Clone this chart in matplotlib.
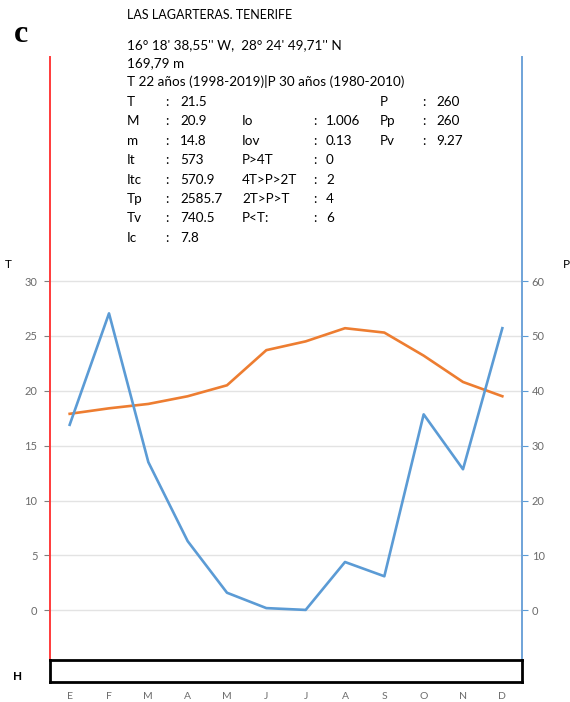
import matplotlib
matplotlib.use("Agg")
import matplotlib.pyplot as plt
import numpy as np

months = ["E", "F", "M", "A", "M", "J", "J", "A", "S", "O", "N", "D"]
temp = [17.9, 18.4, 18.8, 19.5, 20.5, 23.7, 24.5, 25.7, 25.3, 23.2, 20.8, 19.5]
prec = [33.8, 54.1, 27.0, 12.6, 3.2, 0.4, 0.07, 8.8, 6.2, 35.7, 25.7, 51.4]

station = "LAS LAGARTERAS. TENERIFE"
coords = "16° 18' 38,55'' W,  28° 24' 49,71'' N"
altitude = "169,79 m"
period = "T 22 años (1998-2019)|P 30 años (1980-2010)"
col1 = [("T", "21.5"), ("M", "20.9"), ("m", "14.8"), ("It", "573"),
        ("Itc", "570.9"), ("Tp", "2585.7"), ("Tv", "740.5"), ("Ic", "7.8")]
col2 = [("Io", "1.006"), ("Iov", "0.13"), ("P>4T", "0"),
        ("4T>P>2T", "2"), ("2T>P>T", "4"), ("P<T:", "6")]
col3 = [("P", "260"), ("Pp", "260"), ("Pv", "9.27")]

W, H = 570, 702
plt.rcParams['font.family'] = ['Lato', 'DejaVu Sans']
fig = plt.figure(figsize=(W / 100, H / 100), dpi=100)


def fx(px):
    return px / W


def fy(py):
    return 1 - py / H


# main climate diagram: T on the left, P on the right (P = 2T)
top_px, bot_px, zero_px, thirty_px = 57, 660, 610.3, 281
scale = (zero_px - thirty_px) / 30
ymax = (zero_px - top_px) / scale
ymin = -(bot_px - zero_px) / scale

ax = fig.add_axes([fx(50), fy(bot_px), fx(522) - fx(50), fy(top_px) - fy(bot_px)])
x = np.arange(len(months))
ax.set_xlim(-0.5, len(months) - 0.5)
ax.set_ylim(ymin, ymax)
ax.set_yticks(range(0, 31, 5))
ax.set_xticks([])
ax.grid(axis="y", color="#e3e3e3", linewidth=1.0)
ax.set_axisbelow(True)
for s in ["top", "bottom", "right"]:
    ax.spines[s].set_visible(False)
ax.spines["left"].set_color("#ff3b3b")
ax.spines["left"].set_linewidth(1.4)
ax.tick_params(axis="y", colors="#7f7f7f", labelsize=8, length=4, width=0.8,
               labelcolor="#6b6b6b", pad=5)

ax2 = ax.twinx()
ax2.set_ylim(2 * ymin, 2 * ymax)
ax2.set_yticks(range(0, 61, 10))
for s in ["top", "bottom", "left"]:
    ax2.spines[s].set_visible(False)
ax2.spines["right"].set_color("#6fa3d8")
ax2.spines["right"].set_linewidth(1.4)
ax2.tick_params(axis="y", colors="#5b9bd5", labelsize=8, length=4, width=0.8,
                labelcolor="#6b6b6b", pad=3)

ax.plot(x, temp, color="#ed7d31", linewidth=1.9, zorder=3)
ax2.plot(x, prec, color="#5b9bd5", linewidth=1.9, zorder=3)

# humidity strip
axh = fig.add_axes([fx(50), fy(682), fx(522) - fx(50), fy(660) - fy(682)])
axh.set_xlim(-0.5, len(months) - 0.5)
axh.set_yticks([])
axh.set_xticks(x)
axh.set_xticklabels(months)
axh.tick_params(axis="x", length=0, labelsize=7.5, labelcolor="#6b6b6b", pad=7)
for s in axh.spines.values():
    s.set_linewidth(2.0)
    s.set_color("black")

# white header box over the top of the axes lines
fig.patches.append(plt.Rectangle((fx(18), fy(56)), fx(540) - fx(18), fy(0) - fy(56),
                                 transform=fig.transFigure, facecolor="white",
                                 edgecolor="none", zorder=5))

fig.text(fx(14), fy(35), "c", fontsize=23, fontweight="bold",
         family="Liberation Serif", va="center", zorder=6)
fig.text(fx(127), fy(15), station, fontsize=9, va="center", zorder=6)
fig.text(fx(127), fy(45), coords, fontsize=9.7, va="center", zorder=6)
fig.text(fx(127), fy(63), altitude, fontsize=9.7, va="center", zorder=6)
fig.text(fx(127), fy(81), period, fontsize=9.7, va="center", zorder=6)

row0, step = 101.7, 19.45
for i, (k, v) in enumerate(col1):
    y = fy(row0 + i * step)
    fig.text(fx(127), y, k, fontsize=9.7, va="center", zorder=6)
    fig.text(fx(165), y, ":", fontsize=9.7, va="center", zorder=6)
    fig.text(fx(180), y, v, fontsize=9.7, va="center", zorder=6)
for i, (k, v) in enumerate(col2):
    y = fy(row0 + (i + 1) * step)
    fig.text(fx(242), y, k, fontsize=9.7, va="center", zorder=6)
    fig.text(fx(313), y, ":", fontsize=9.7, va="center", zorder=6)
    fig.text(fx(326), y, v, fontsize=9.7, va="center", zorder=6)
for i, (k, v) in enumerate(col3):
    y = fy(row0 + i * step)
    fig.text(fx(380), y, k, fontsize=9.7, va="center", zorder=6)
    fig.text(fx(422), y, ":", fontsize=9.7, va="center", zorder=6)
    fig.text(fx(436), y, v, fontsize=9.7, va="center", zorder=6)

fig.text(fx(8), fy(264), "T", fontsize=8.5, va="center", ha="center")
fig.text(fx(566), fy(264), "P", fontsize=8.5, va="center", ha="center")
fig.text(fx(18), fy(677), "H", fontsize=8.5, va="center", ha="center",
         fontweight="bold")

fig.savefig("out.png", dpi=100)
